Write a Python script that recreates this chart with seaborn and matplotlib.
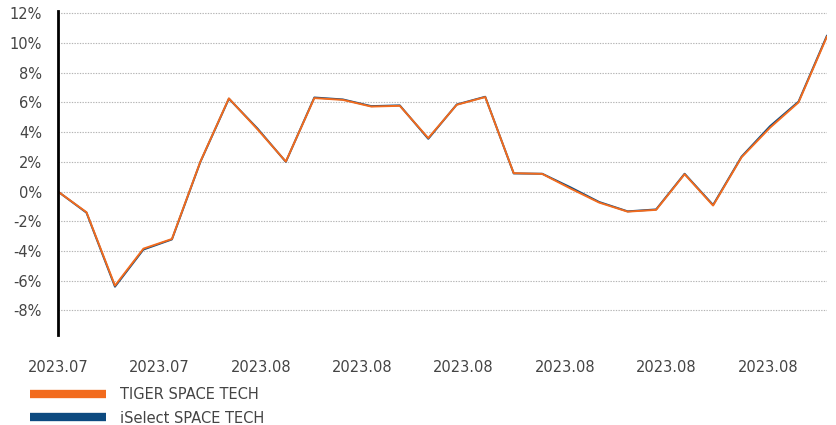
import numpy as np
import pandas as pd
import matplotlib
matplotlib.use("Agg")
import matplotlib.pyplot as plt
import seaborn as sns
from matplotlib.lines import Line2D

# ---- data ----
series_names = ["TIGER SPACE TECH", "iSelect SPACE TECH"]
tiger = [0.0, -1.39, -6.33, -3.84, -3.19, 2.02, 6.27, 4.2, 2.02, 6.29, 6.17, 5.72,
         5.77, 3.6, 5.84, 6.36, 1.24, 1.19, 0.2, -0.74, -1.35, -1.23, 1.17, -0.94,
         2.31, 4.3, 6.0, 10.44]
iselect = [0.0, -1.42, -6.4, -3.9, -3.22, 2.0, 6.25, 4.25, 2.0, 6.33, 6.2, 5.75,
           5.8, 3.55, 5.86, 6.38, 1.22, 1.2, 0.28, -0.7, -1.33, -1.2, 1.2, -0.9,
           2.35, 4.4, 6.05, 10.5]
tick_labels = ["2023.07", "2023.07", "2023.08", "2023.08", "2023.08",
               "2023.08", "2023.08", "2023.08"]
y_ticks = [-8, -6, -4, -2, 0, 2, 4, 6, 8, 10, 12]

colors = {"TIGER SPACE TECH": "#F26B1D", "iSelect SPACE TECH": "#0D4A80"}

n = len(tiger)
df = pd.DataFrame({
    "idx": list(range(n)) * 2,
    "value": tiger + iselect,
    "series": [series_names[0]] * n + [series_names[1]] * n,
})

sns.set_theme(style="white")
plt.rcParams["font.family"] = ["DejaVu Sans"]

fig = plt.figure(figsize=(8.37, 4.25), dpi=100)
ax = fig.add_axes([58 / 837, 1 - 335 / 425, (827 - 58) / 837, (335 - 11) / 425])

sns.lineplot(data=df, x="idx", y="value", hue="series",
             hue_order=["iSelect SPACE TECH", "TIGER SPACE TECH"],
             palette=colors, linewidth=1.4, ax=ax, legend=False)

ax.set_xlim(0, n - 1)
ax.set_ylim(-9.65, 12.15)
ax.set_yticks(y_ticks)
ax.set_yticklabels([f"{v}%" for v in y_ticks], fontsize=10.5, color="#444444")
ax.set_xticks(np.arange(len(tick_labels)) * 3.56)
ax.set_xticklabels(tick_labels, fontsize=10.5, color="#444444")
ax.tick_params(axis="both", length=0)
ax.tick_params(axis="x", pad=18)
ax.tick_params(axis="y", pad=11.5)
ax.set_xlabel("")
ax.set_ylabel("")

for yv in y_ticks:
    ax.axhline(yv, color="#b4b4b4", linestyle=(0, (1.2, 1.2)), linewidth=0.8, zorder=0)

for s in ["top", "right", "bottom"]:
    ax.spines[s].set_visible(False)
ax.spines["left"].set_color("black")
ax.spines["left"].set_linewidth(2)

handles = [Line2D([0], [0], color=colors[s], linewidth=6, solid_capstyle="butt")
           for s in series_names]
fig.legend(handles, series_names, loc="upper left",
           bbox_to_anchor=(24 / 837, 1 - 381 / 425), frameon=False,
           fontsize=10.5, handlelength=5.2, handletextpad=1.0, labelspacing=0.6,
           labelcolor="#444444", borderaxespad=0)

fig.savefig("out.png", dpi=100)
